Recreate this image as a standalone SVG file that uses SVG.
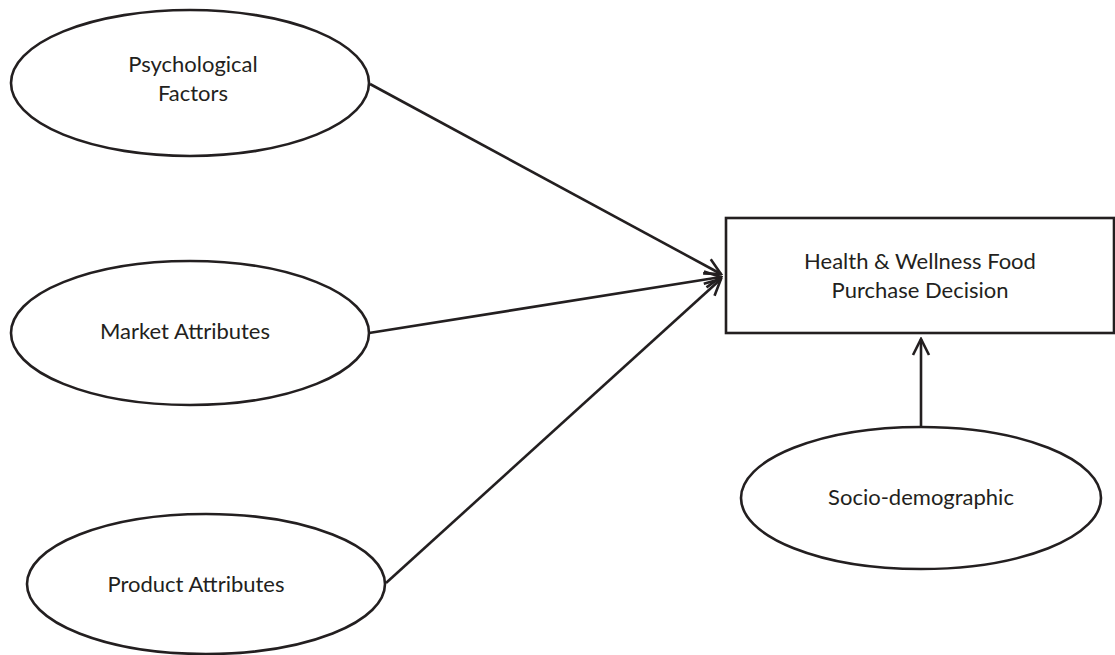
<svg xmlns="http://www.w3.org/2000/svg" width="1115" height="655" viewBox="0 0 1115 655">
<style>
.node{fill:#fff;stroke:#231f20;stroke-width:2.6}
.lbl{font-family:Lato,"Open Sans",sans-serif;font-size:22px;fill:#231f20;text-anchor:middle}
.conn{fill:none;stroke:#231f20;stroke-width:2.6}
</style>
<defs>
<marker id="arr" viewBox="0 0 20 20" refX="18" refY="10" markerWidth="20" markerHeight="20" markerUnits="userSpaceOnUse" orient="auto">
<path d="M2,2 L18,10 L2,18" fill="none" stroke="#231f20" stroke-width="2.6"/>
</marker>
</defs>
<rect width="1115" height="655" fill="#fff"/>
<g id="psychological">
<ellipse class="node" cx="190" cy="83" rx="179" ry="73"/>
<text class="lbl" x="193" y="72">Psychological</text>
<text class="lbl" x="193" y="101">Factors</text>
</g>
<g id="market">
<ellipse class="node" cx="190" cy="333" rx="179" ry="72"/>
<text class="lbl" x="185" y="339">Market Attributes</text>
</g>
<g id="product">
<ellipse class="node" cx="206" cy="584" rx="179" ry="70"/>
<text class="lbl" x="196" y="592">Product Attributes</text>
</g>
<g id="decision">
<rect class="node" x="726" y="218" width="388" height="115"/>
<text class="lbl" x="920" y="269">Health &amp; Wellness Food</text>
<text class="lbl" x="920" y="298">Purchase Decision</text>
</g>
<g id="socio">
<ellipse class="node" cx="921" cy="498" rx="180" ry="71"/>
<text class="lbl" x="921" y="505">Socio-demographic</text>
</g>
<g id="connectors">
<line class="conn" x1="370" y1="84" x2="721" y2="274" marker-end="url(#arr)"/>
<line class="conn" x1="369" y1="333" x2="721" y2="277" marker-end="url(#arr)"/>
<line class="conn" x1="386" y1="583" x2="721" y2="279" marker-end="url(#arr)"/>
<line class="conn" x1="921" y1="427" x2="921" y2="339" marker-end="url(#arr)"/>
</g>
</svg>
